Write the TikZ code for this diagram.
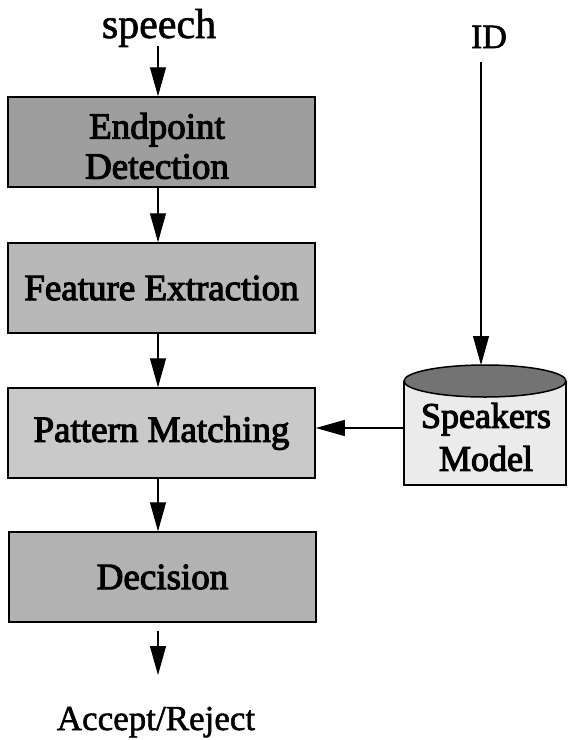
\documentclass[tikz,border=0pt]{standalone}
\usepackage{fontspec}
\setmainfont{Liberation Serif}
\newfontfamily\boxfont{Liberation Serif}[FakeBold=3]
\newfontfamily\plainfont{Liberation Serif}[FakeBold=1.5]
\usetikzlibrary{arrows.meta}
\begin{document}
\begin{tikzpicture}[x=1pt,y=-1pt,
  stage/.style={draw, line width=1.5pt, minimum width=307pt, minimum height=90pt,
    inner sep=0pt, align=center, font=\boxfont\fontsize{37}{40}\selectfont},
  flow/.style={-{Triangle[width=16pt,length=29pt]}, line width=1.1pt},
  lbl/.style={inner sep=0pt, font=\plainfont}]
\useasboundingbox (0,0) rectangle (568,740);
% stages
\node[stage, fill=black!38] (ep)  at (161.5,142) {};
\node[font=\boxfont\fontsize{37}{40}\selectfont, align=center, inner sep=0pt]
  (eptext) at (157,146) {Endpoint\\Detection};
\node[stage, fill=black!28] (fe)  at (161.5,288) {Feature Extraction};
\node[stage, fill=black!21] (pm)  at (161.5,433) {Pattern Matching};
\node[stage, fill=black!30] (dec) at (162.5,577) {Decision};
% labels
\node[lbl, anchor=base, font=\plainfont\fontsize{42}{46}\selectfont] (speech) at (159,38) {speech};
\node[lbl, anchor=base, font=\plainfont\fontsize{34}{38}\selectfont] (id) at (489,48) {ID};
\node[lbl, anchor=base, font=\plainfont\fontsize{35}{40}\selectfont] (acc) at (156,730) {Accept/Reject};
% cylinder
\fill[black!8] (404,381) rectangle (566,485);
\draw[line width=1.5pt] (404,381) -- (404,485) -- (566,485) -- (566,381);
\draw[line width=1.5pt, fill=black!55] (485,381) ellipse [x radius=81, y radius=16];
\node[inner sep=0pt, align=center,
  font=\boxfont\fontsize{36}{43}\selectfont] (spktext) at (486,437) {Speakers\\Model};
\node[inner sep=0pt, minimum width=162pt, minimum height=104pt] (spk) at (485,433) {};
\coordinate (idstart) at (481,62);
\coordinate (cyltop) at (481,365);
\coordinate (accend) at (158,675);
% connectors
\draw[flow] (speech.south -| accend) ++(0,-1) -- (ep.north -| accend);
\draw[flow] (ep.south -| accend) -- (fe.north -| accend);
\draw[flow] (fe.south -| accend) -- (pm.north -| accend);
\draw[flow] (pm.south -| accend) -- (dec.north -| accend);
\draw[flow] ([yshift=-8pt]dec.south -| accend) -- (accend);
\draw[flow] (idstart) -- (cyltop);
\draw[flow] (spk.west |- 0,428) -- (pm.east |- 0,428);
\end{tikzpicture}
\end{document}
